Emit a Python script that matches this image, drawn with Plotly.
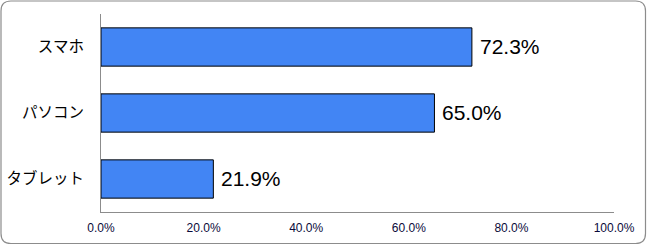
import plotly.graph_objects as go

categories = ["スマホ", "パソコン", "タブレット"]
values = [72.3, 65.0, 21.9]
tick_vals = [0, 20, 40, 60, 80, 100]
tick_text = ["0.0%", "20.0%", "40.0%", "60.0%", "80.0%", "100.0%"]

W, H = 647, 245
L, R, T, B = 101, 33, 14, 33
pw, ph = W - L - R, H - T - B

fig = go.Figure()
fig.add_trace(go.Bar(
    y=categories, x=values, orientation="h",
    marker=dict(color="#4285F4", line=dict(color="#000000", width=1)),
    width=0.58,
    cliponaxis=False,
))

for c, v in zip(categories, values):
    fig.add_annotation(x=v, y=c, text=f"{v:.1f}%", showarrow=False,
                       xanchor="left", xshift=6, yshift=1,
                       font=dict(family="Arial, Liberation Sans", size=21, color="#000000"))

def px2paper_x(px):
    return (px - L) / pw

def px2paper_y(py):
    return (H - B - py) / ph

x0, x1, y0, y1, r = 1, 645.5, 1, 243.5, 10
path = (f"M {px2paper_x(x0+r)} {px2paper_y(y0)} "
        f"L {px2paper_x(x1-r)} {px2paper_y(y0)} "
        f"Q {px2paper_x(x1)} {px2paper_y(y0)} {px2paper_x(x1)} {px2paper_y(y0+r)} "
        f"L {px2paper_x(x1)} {px2paper_y(y1-r)} "
        f"Q {px2paper_x(x1)} {px2paper_y(y1)} {px2paper_x(x1-r)} {px2paper_y(y1)} "
        f"L {px2paper_x(x0+r)} {px2paper_y(y1)} "
        f"Q {px2paper_x(x0)} {px2paper_y(y1)} {px2paper_x(x0)} {px2paper_y(y1-r)} "
        f"L {px2paper_x(x0)} {px2paper_y(y0+r)} "
        f"Q {px2paper_x(x0)} {px2paper_y(y0)} {px2paper_x(x0+r)} {px2paper_y(y0)} Z")

fig.update_layout(
    width=W, height=H,
    margin=dict(l=L, r=R, t=T, b=B, autoexpand=False),
    paper_bgcolor="white", plot_bgcolor="white",
    showlegend=False,
    shapes=[dict(type="path", xref="paper", yref="paper", path=path,
                 line=dict(color="#8c8c8c", width=1.2), layer="below")],
    xaxis=dict(range=[0, 100], tickvals=tick_vals, ticktext=tick_text,
               showgrid=False, zeroline=False, showline=True, linecolor="#8c8c8c",
               linewidth=1, ticks="", ticklabelstandoff=5, automargin=False,
               tickfont=dict(family="Arial, Liberation Sans", size=12, color="#0a0a3a")),
    yaxis=dict(autorange="reversed", showgrid=False, zeroline=False,
               showline=True, linecolor="#8c8c8c", linewidth=1, ticks="",
               ticklabelstandoff=13, automargin=False,
               tickfont=dict(family="Noto Sans CJK JP", size=15.5, color="#000000")),
    bargap=0.42,
)

fig.write_html("out.html")
